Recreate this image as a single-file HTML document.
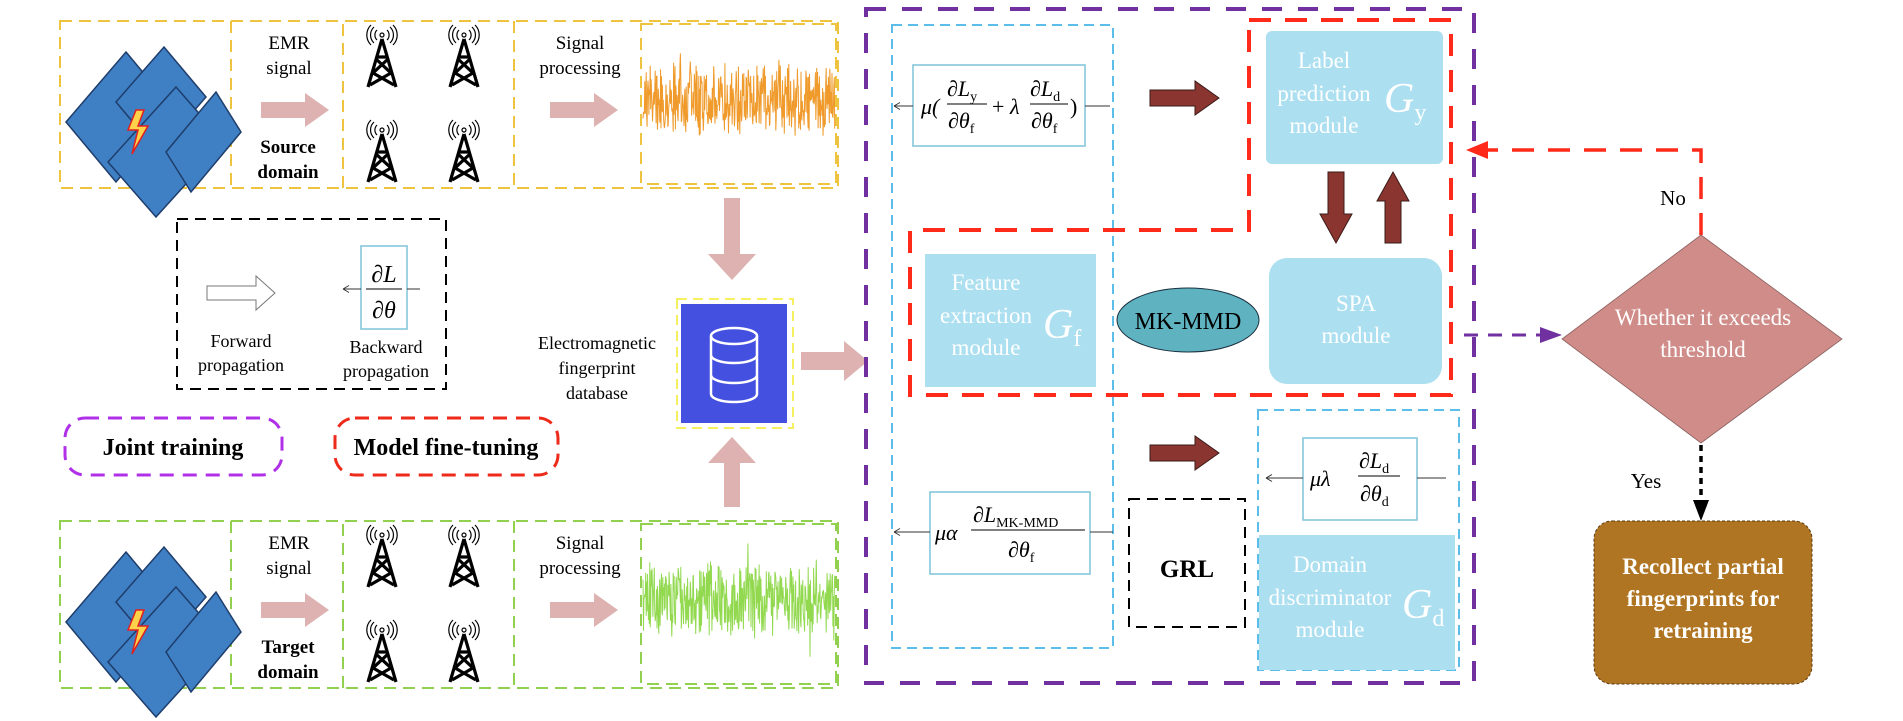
<!DOCTYPE html>
<html><head><meta charset="utf-8"><style>
html,body{margin:0;padding:0;background:#fff;}
svg{display:block;}
text{font-family:"Liberation Serif",serif;}
</style></head><body>
<svg id="s" width="1903" height="721" viewBox="0 0 1903 721" xmlns="http://www.w3.org/2000/svg" font-family="Liberation Serif, serif">
<defs>
<marker id="ah" markerWidth="8" markerHeight="8" refX="7" refY="4" orient="auto" markerUnits="userSpaceOnUse"><path d="M7,4 L1,0.5 M7,4 L1,7.5" stroke="#333" fill="none" stroke-width="1"/></marker>
<g id="panel">
 <g stroke="#1e3d6b" stroke-width="1.5" fill="#3f7fc4">
  <polygon points="0,80 60,10 110,70 50,140"/>
  <polygon points="50,60 98,5 140,55 92,110"/>
  <polygon points="42,120 110,45 158,100 90,175"/>
  <polygon points="100,110 150,50 175,90 125,150"/>
 </g>
 <polygon points="70,68 62,88 72,88 66,112 82,84 72,84 78,68" fill="#ffd24a" stroke="#e02020" stroke-width="1.5"/>
</g>
<g id="tower" fill="none" stroke="#000">
 <circle cx="0" cy="8" r="2" stroke-width="1.2"/>
 <path d="M-5,3 A7,7 0 0 0 -5,13 M5,3 A7,7 0 0 1 5,13 M-8,0 A11,11 0 0 0 -8,16 M8,0 A11,11 0 0 1 8,16 M-11,-2 A14,14 0 0 0 -11,18 M11,-2 A14,14 0 0 1 11,18" stroke-width="1.2"/>
 <path d="M0,12 L-14,60 M0,12 L14,60 M-6,32 L9,46 L-12,58 M6,32 L-9,46 L12,58 M-5,30 L5,30" stroke-width="3.2"/>
</g>
</defs>

<!-- Source domain -->
<g fill="none" stroke="#eec340" stroke-width="2" stroke-dasharray="12,7">
 <rect x="60" y="21" width="778" height="167"/>
 <line x1="231" y1="21" x2="231" y2="188"/>
 <line x1="343" y1="24" x2="343" y2="188"/>
 <line x1="514" y1="21" x2="514" y2="188"/>
 <rect x="641" y="24" width="195" height="160"/>
</g>
<use href="#panel" x="66" y="42"/>
<text x="289" y="49" font-size="19" text-anchor="middle">EMR</text>
<text x="289" y="74" font-size="19" text-anchor="middle">signal</text>
<polygon points="261,102 305,102 305,93 329,110 305,127 305,118 261,118" fill="#ddb2b0"/>
<text x="288" y="153" font-size="19" font-weight="bold" text-anchor="middle">Source</text>
<text x="288" y="178" font-size="19" font-weight="bold" text-anchor="middle">domain</text>
<use href="#tower" x="382" y="27"/><use href="#tower" x="464" y="27"/>
<use href="#tower" x="382" y="122"/><use href="#tower" x="464" y="122"/>
<text x="580" y="49" font-size="19" text-anchor="middle">Signal</text>
<text x="580" y="74" font-size="19" text-anchor="middle">processing</text>
<polygon points="550,102 594,102 594,93 618,110 594,127 594,118 550,118" fill="#ddb2b0"/>
<polyline id="w1" fill="none" stroke="#ef9a2a" stroke-width="1"/>

<!-- Target domain -->
<g fill="none" stroke="#92d050" stroke-width="2" stroke-dasharray="12,7">
 <rect x="60" y="521" width="778" height="167"/>
 <line x1="231" y1="521" x2="231" y2="688"/>
 <line x1="343" y1="524" x2="343" y2="688"/>
 <line x1="514" y1="521" x2="514" y2="688"/>
 <rect x="641" y="524" width="195" height="160"/>
</g>
<use href="#panel" x="66" y="542"/>
<text x="289" y="549" font-size="19" text-anchor="middle">EMR</text>
<text x="289" y="574" font-size="19" text-anchor="middle">signal</text>
<polygon points="261,602 305,602 305,593 329,610 305,627 305,618 261,618" fill="#ddb2b0"/>
<text x="288" y="653" font-size="19" font-weight="bold" text-anchor="middle">Target</text>
<text x="288" y="678" font-size="19" font-weight="bold" text-anchor="middle">domain</text>
<use href="#tower" x="382" y="527"/><use href="#tower" x="464" y="527"/>
<use href="#tower" x="382" y="622"/><use href="#tower" x="464" y="622"/>
<text x="580" y="549" font-size="19" text-anchor="middle">Signal</text>
<text x="580" y="574" font-size="19" text-anchor="middle">processing</text>
<polygon points="550,602 594,602 594,593 618,610 594,627 594,618 550,618" fill="#ddb2b0"/>
<polyline id="w2" fill="none" stroke="#92d950" stroke-width="1"/>

<!-- Legend -->
<rect x="177" y="219" width="269" height="170" fill="none" stroke="#000" stroke-width="2" stroke-dasharray="11,7"/>
<polygon points="207,286 256,286 256,276 275,293 256,310 256,300 207,300" fill="#fff" stroke="#777" stroke-width="1"/>
<rect x="361" y="246" width="46" height="83" fill="none" stroke="#7fc4d8" stroke-width="1.5"/>
<line x1="407" y1="289" x2="420" y2="289" stroke="#333"/>
<line x1="361" y1="289" x2="343" y2="289" stroke="#333" marker-end="url(#ah)"/>
<line x1="366" y1="289" x2="402" y2="289" stroke="#000" stroke-width="1"/>
<text x="384" y="282" font-size="24" font-style="italic" text-anchor="middle">∂L</text>
<text x="384" y="318" font-size="24" font-style="italic" text-anchor="middle">∂θ</text>
<text x="241" y="347" font-size="18" text-anchor="middle">Forward</text>
<text x="241" y="371" font-size="18" text-anchor="middle">propagation</text>
<text x="386" y="353" font-size="18" text-anchor="middle">Backward</text>
<text x="386" y="377" font-size="18" text-anchor="middle">propagation</text>

<rect x="65" y="418" width="217" height="57" rx="20" fill="none" stroke="#b030e8" stroke-width="3" stroke-dasharray="14,9"/>
<text x="173" y="455" font-size="24" font-weight="bold" text-anchor="middle">Joint training</text>
<rect x="335" y="418" width="223" height="57" rx="20" fill="none" stroke="#ee2a1a" stroke-width="3" stroke-dasharray="14,9"/>
<text x="446" y="455" font-size="24" font-weight="bold" text-anchor="middle">Model fine-tuning</text>

<!-- Database -->
<text x="597" y="349" font-size="18" text-anchor="middle">Electromagnetic</text>
<text x="597" y="374" font-size="18" text-anchor="middle">fingerprint</text>
<text x="597" y="399" font-size="18" text-anchor="middle">database</text>
<rect x="677" y="299" width="116" height="129" fill="none" stroke="#f4f060" stroke-width="2" stroke-dasharray="10,6"/>
<rect x="681" y="304" width="106" height="119" fill="#4350e0"/>
<g fill="none" stroke="#fff" stroke-width="2.5">
 <ellipse cx="734" cy="336" rx="23" ry="8"/>
 <path d="M711,336 V394 A23,8 0 0 0 757,394 V336 M711,355 A23,8 0 0 0 757,355 M711,375 A23,8 0 0 0 757,375"/>
</g>
<polygon points="724,198 740,198 740,254 756,254 732,280 708,254 724,254" fill="#ddb2b0"/>
<polygon points="724,507 740,507 740,463 756,463 732,437 708,463 724,463" fill="#ddb2b0"/>
<polygon points="801,352 844,352 844,341 868,361 844,381 844,370 801,370" fill="#ddb2b0"/>

<!-- Purple main -->
<rect x="866" y="9" width="608" height="674" fill="none" stroke="#7030a0" stroke-width="4" stroke-dasharray="20,16"/>
<rect x="892" y="25" width="221" height="623" fill="none" stroke="#5bbde8" stroke-width="2" stroke-dasharray="10,6"/>
<!-- formula1 -->
<rect x="913" y="65" width="172" height="81" fill="#fff" stroke="#7fc4d8" stroke-width="1.5"/>
<line x1="913" y1="106" x2="894" y2="106" stroke="#333" marker-end="url(#ah)"/>
<line x1="1085" y1="106" x2="1110" y2="106" stroke="#333"/>
<g font-size="22" font-style="italic">
 <text x="921" y="114">μ(</text>
 <text x="947" y="96">∂L<tspan font-size="14" font-style="normal" dy="5">y</tspan></text>
 <line x1="947" y1="104" x2="987" y2="104" stroke="#000"/>
 <text x="948" y="128">∂θ<tspan font-size="14" font-style="normal" dy="5">f</tspan></text>
 <text x="992" y="114" font-style="normal">+</text>
 <text x="1010" y="114">λ</text>
 <text x="1030" y="96">∂L<tspan font-size="14" font-style="normal" dy="5">d</tspan></text>
 <line x1="1030" y1="104" x2="1068" y2="104" stroke="#000"/>
 <text x="1031" y="128">∂θ<tspan font-size="14" font-style="normal" dy="5">f</tspan></text>
 <text x="1070" y="114" font-style="normal">)</text>
</g>
<!-- formula2 -->
<rect x="930" y="492" width="160" height="82" fill="#fff" stroke="#7fc4d8" stroke-width="1.5"/>
<line x1="930" y1="532" x2="894" y2="532" stroke="#333" marker-end="url(#ah)"/>
<line x1="1090" y1="532" x2="1113" y2="532" stroke="#333"/>
<g font-size="22" font-style="italic">
 <text x="935" y="540">μα</text>
 <text x="973" y="522">∂L<tspan font-size="14" font-style="normal" dy="5">MK-MMD</tspan></text>
 <line x1="971" y1="530" x2="1085" y2="530" stroke="#000"/>
 <text x="1008" y="557">∂θ<tspan font-size="14" font-style="normal" dy="5">f</tspan></text>
</g>

<!-- red boxes -->
<polygon points="1249,20 1451,20 1451,395 910,395 910,230 1249,230" fill="none" stroke="#ff2a1a" stroke-width="4" stroke-dasharray="22,14"/>
<rect x="1266" y="31" width="177" height="133" rx="6" fill="#acdff0"/>
<g fill="#fff" font-size="23" text-anchor="middle">
 <text x="1324" y="68">Label</text>
 <text x="1324" y="101">prediction</text>
 <text x="1324" y="133">module</text>
</g>
<text x="1384" y="112" font-size="42" font-style="italic" fill="#fff">G<tspan font-size="24" font-style="normal" dy="8">y</tspan></text>

<rect x="925" y="254" width="171" height="133" fill="#acdff0"/>
<g fill="#fff" font-size="23" text-anchor="middle">
 <text x="986" y="290">Feature</text>
 <text x="986" y="323">extraction</text>
 <text x="986" y="355">module</text>
</g>
<text x="1043" y="338" font-size="42" font-style="italic" fill="#fff">G<tspan font-size="24" font-style="normal" dy="8">f</tspan></text>

<ellipse cx="1188" cy="320" rx="71" ry="32" fill="#5fb3c0" stroke="#1a3040" stroke-width="1"/>
<text x="1188" y="329" font-size="24" text-anchor="middle">MK-MMD</text>

<rect x="1269" y="258" width="173" height="126" rx="18" fill="#acdff0"/>
<text x="1356" y="311" font-size="23" fill="#fff" text-anchor="middle">SPA</text>
<text x="1356" y="343" font-size="23" fill="#fff" text-anchor="middle">module</text>

<g fill="#8b3530" stroke="#3a1a18" stroke-width="1">
 <polygon points="1150,90 1195,90 1195,81 1219,98 1195,115 1195,106 1150,106"/>
 <polygon points="1150,445 1195,445 1195,436 1219,453 1195,470 1195,461 1150,461"/>
 <polygon points="1328,172 1344,172 1344,214 1352,214 1336,243 1320,214 1328,214"/>
 <polygon points="1385,243 1401,243 1401,201 1409,201 1393,172 1377,201 1385,201"/>
</g>

<rect x="1258" y="410" width="201" height="260" fill="none" stroke="#5bbde8" stroke-width="2" stroke-dasharray="10,6"/>
<rect x="1303" y="438" width="114" height="82" fill="#fff" stroke="#7fc4d8" stroke-width="1.5"/>
<line x1="1303" y1="478" x2="1266" y2="478" stroke="#333" marker-end="url(#ah)"/>
<line x1="1417" y1="478" x2="1446" y2="478" stroke="#333"/>
<g font-size="22" font-style="italic">
 <text x="1310" y="486">μλ</text>
 <text x="1359" y="468">∂L<tspan font-size="14" font-style="normal" dy="5">d</tspan></text>
 <line x1="1358" y1="476" x2="1400" y2="476" stroke="#000"/>
 <text x="1360" y="501">∂θ<tspan font-size="14" font-style="normal" dy="5">d</tspan></text>
</g>
<rect x="1259" y="535" width="196" height="135" fill="#acdff0"/>
<g fill="#fff" font-size="23" text-anchor="middle">
 <text x="1330" y="572">Domain</text>
 <text x="1330" y="605">discriminator</text>
 <text x="1330" y="637">module</text>
</g>
<text x="1402" y="618" font-size="42" font-style="italic" fill="#fff">G<tspan font-size="24" font-style="normal" dy="8">d</tspan></text>

<rect x="1129" y="499" width="116" height="128" fill="none" stroke="#000" stroke-width="2" stroke-dasharray="11,7"/>
<text x="1187" y="577" font-size="25" font-weight="bold" text-anchor="middle">GRL</text>

<line x1="1464" y1="335" x2="1545" y2="335" stroke="#7030a0" stroke-width="3" stroke-dasharray="14,10"/>
<polygon points="1540,327 1562,335 1540,343" fill="#7030a0"/>
<polygon points="1701,235 1842,339 1701,443 1562,339" fill="#d08c88" stroke="#8a6060" stroke-width="0.8"/>
<text x="1703" y="325" font-size="23" fill="#fff" text-anchor="middle">Whether it exceeds</text>
<text x="1703" y="357" font-size="23" fill="#fff" text-anchor="middle">threshold</text>
<polyline points="1701,235 1701,150 1485,150" fill="none" stroke="#ff2a1a" stroke-width="3.5" stroke-dasharray="22,14"/>
<polygon points="1488,141 1466,150 1488,159" fill="#ff2a1a"/>
<text x="1673" y="205" font-size="21" text-anchor="middle">No</text>
<line x1="1701" y1="445" x2="1701" y2="502" stroke="#000" stroke-width="3.5" stroke-dasharray="6,5"/>
<polygon points="1693,500 1709,500 1701,521" fill="#000"/>
<text x="1646" y="488" font-size="21" text-anchor="middle">Yes</text>
<rect x="1594" y="521" width="218" height="163" rx="18" fill="#b07522" stroke="#5a3a10" stroke-width="1" stroke-dasharray="3,2"/>
<g fill="#fff" font-size="23" font-weight="bold" text-anchor="middle">
 <text x="1703" y="574">Recollect partial</text>
 <text x="1703" y="606">fingerprints for</text>
 <text x="1703" y="638">retraining</text>
</g>
</svg>
<script>
(function(){
 var seed=7;function r(){seed=(seed*16807)%2147483647;return seed/2147483647;}
 function wave(id,x0,x1,cy,amp){var p=[];for(var x=x0;x<=x1;x+=0.45){var a=amp*(0.55+0.45*r());var v=(r()*2-1); if(r()<0.015)v*=1.7;p.push(x.toFixed(1)+","+(cy+v*a).toFixed(1));}document.getElementById(id).setAttribute("points",p.join(" "));}
 wave("w1",643,835,100,40);
 wave("w2",643,835,600,42);
})();
</script>
</body></html>
